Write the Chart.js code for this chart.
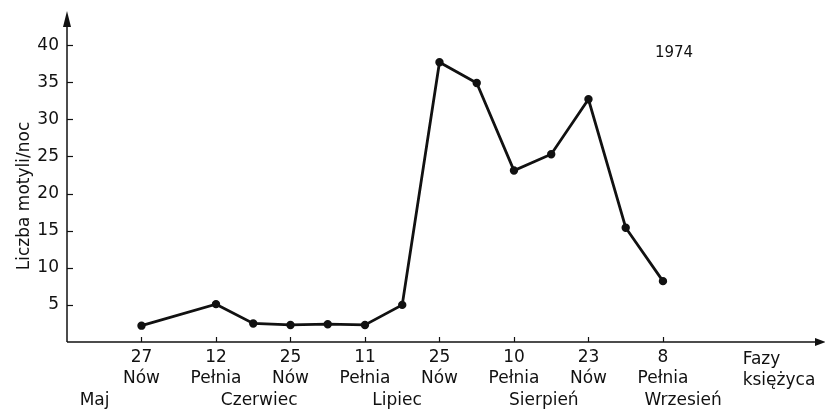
<!DOCTYPE html>
<html>
<head>
<meta charset="utf-8">
<script src="https://cdn.jsdelivr.net/npm/chart.js@4/dist/chart.umd.min.js"></script>
<style>
  html, body { margin: 0; padding: 0; background: #fff; }
  #wrap { width: 825px; height: 410px; position: relative; }
</style>
</head>
<body>
<div id="wrap"><canvas id="c" width="825" height="410"></canvas></div>
<script>
// Moon-phase dates on the x axis (equal spacing between successive phases)
const phasePos = [0, 1, 2, 3, 4, 5, 6, 7];
const dayLabels = ['27', '12', '25', '11', '25', '10', '23', '8'];
const phaseLabels = ['Nów', 'Pełnia', 'Nów', 'Pełnia', 'Nów', 'Pełnia', 'Nów', 'Pełnia'];
const axisName = ['Fazy', 'księżyca'];
const axisNameStart = 8.07;

// Month names written under the phases
const months = ['Maj', 'Czerwiec', 'Lipiec', 'Sierpień', 'Wrzesień'];
const monthPos = [-0.63, 1.58, 3.43, 5.4, 7.27];

// Catches: position along the phase axis and moths per night
const sampleX = [0, 1, 1.5, 2, 2.5, 3, 3.5, 4, 4.5, 5, 5.5, 6, 6.5, 7];
const counts = [2.2, 5.1, 2.5, 2.3, 2.4, 2.3, 5.0, 37.7, 34.9, 23.1, 25.3, 32.7, 15.4, 8.2];

const yTicks = [5, 10, 15, 20, 25, 30, 35, 40];
const yTitle = 'Liczba motyli/noc';
const yearLabel = '1974';

const FONT = "'DejaVu Sans', sans-serif";
const INK = '#111';

// Axes drawn by hand: arrows, inward tick marks, month row, titles
const decor = {
  id: 'decor',
  afterDraw(chart) {
    const ctx = chart.ctx;
    const xs = chart.scales.x, ys = chart.scales.y;
    const a = chart.chartArea;
    const x0 = a.left, y0 = a.bottom;
    ctx.save();
    ctx.strokeStyle = INK;
    ctx.fillStyle = INK;
    ctx.lineWidth = 1.5;
    // y axis with arrow
    ctx.beginPath();
    ctx.moveTo(x0, y0);
    ctx.lineTo(x0, 20);
    ctx.stroke();
    ctx.beginPath();
    ctx.moveTo(x0, 11);
    ctx.lineTo(x0 - 4, 27);
    ctx.lineTo(x0 + 4, 27);
    ctx.closePath();
    ctx.fill();
    // x axis with arrow
    ctx.beginPath();
    ctx.moveTo(x0, y0);
    ctx.lineTo(818, y0);
    ctx.stroke();
    ctx.beginPath();
    ctx.moveTo(826, y0);
    ctx.lineTo(815, y0 - 4);
    ctx.lineTo(815, y0 + 4);
    ctx.closePath();
    ctx.fill();
    // inward tick marks
    ctx.lineWidth = 1.2;
    yTicks.forEach(v => {
      const py = Math.round(ys.getPixelForValue(v)) + 0.5;
      ctx.beginPath();
      ctx.moveTo(x0, py);
      ctx.lineTo(x0 + 6, py);
      ctx.stroke();
    });
    phasePos.forEach(v => {
      const px = Math.round(xs.getPixelForValue(v)) + 0.5;
      ctx.beginPath();
      ctx.moveTo(px, y0);
      ctx.lineTo(px, y0 - 5);
      ctx.stroke();
    });
    ctx.font = '17px ' + FONT;
    ctx.textBaseline = 'alphabetic';
    // axis name, left aligned in two lines
    ctx.textAlign = 'left';
    const nx = xs.getPixelForValue(axisNameStart);
    ctx.fillText(axisName[0], nx, 364);
    ctx.fillText(axisName[1], nx, 385);
    // months
    ctx.textAlign = 'center';
    months.forEach((m, i) => {
      ctx.fillText(m, xs.getPixelForValue(monthPos[i]), 405);
    });
    // y axis title
    ctx.save();
    ctx.translate(29, 196);
    ctx.rotate(-Math.PI / 2);
    ctx.fillText(yTitle, 0, 0);
    ctx.restore();
    // year
    ctx.font = '15px ' + FONT;
    ctx.textBaseline = 'middle';
    ctx.fillText(yearLabel, 674, 53);
    ctx.restore();
  }
};

new Chart(document.getElementById('c'), {
  type: 'line',
  data: {
    datasets: [{
      data: sampleX.map((x, i) => ({ x: x, y: counts[i] })),
      borderColor: INK,
      backgroundColor: INK,
      borderWidth: 2.8,
      pointRadius: 2.8,
      pointHoverRadius: 2.8,
      tension: 0,
      fill: false
    }]
  },
  options: {
    responsive: false,
    animation: false,
    devicePixelRatio: 1,
    layout: { padding: { top: 8, right: 3, left: 0, bottom: 0 } },
    plugins: { legend: { display: false }, tooltip: { enabled: false } },
    scales: {
      x: {
        type: 'linear',
        min: -1,
        max: 9.1,
        grid: { display: false, drawTicks: false },
        border: { display: false },
        afterBuildTicks(scale) {
          scale.ticks = phasePos.map(v => ({ value: v }));
        },
        afterFit(scale) {
          scale.height = 68;
          scale.paddingLeft = 0;
          scale.paddingRight = 0;
        },
        ticks: {
          autoSkip: false,
          maxRotation: 0,
          minRotation: 0,
          padding: 5,
          color: INK,
          font: { family: FONT, size: 17, lineHeight: 1.24 },
          callback(value, index) {
            return [dayLabels[index], phaseLabels[index]];
          }
        }
      },
      y: {
        type: 'linear',
        min: 0,
        max: 45,
        grid: { display: false, drawTicks: false },
        border: { display: false },
        afterBuildTicks(scale) {
          scale.ticks = yTicks.map(v => ({ value: v }));
        },
        afterFit(scale) {
          scale.width = 67;
          scale.paddingTop = 0;
          scale.paddingBottom = 0;
        },
        ticks: {
          padding: 8,
          color: INK,
          font: { family: FONT, size: 17 }
        }
      }
    }
  },
  plugins: [decor]
});
</script>
</body>
</html>
